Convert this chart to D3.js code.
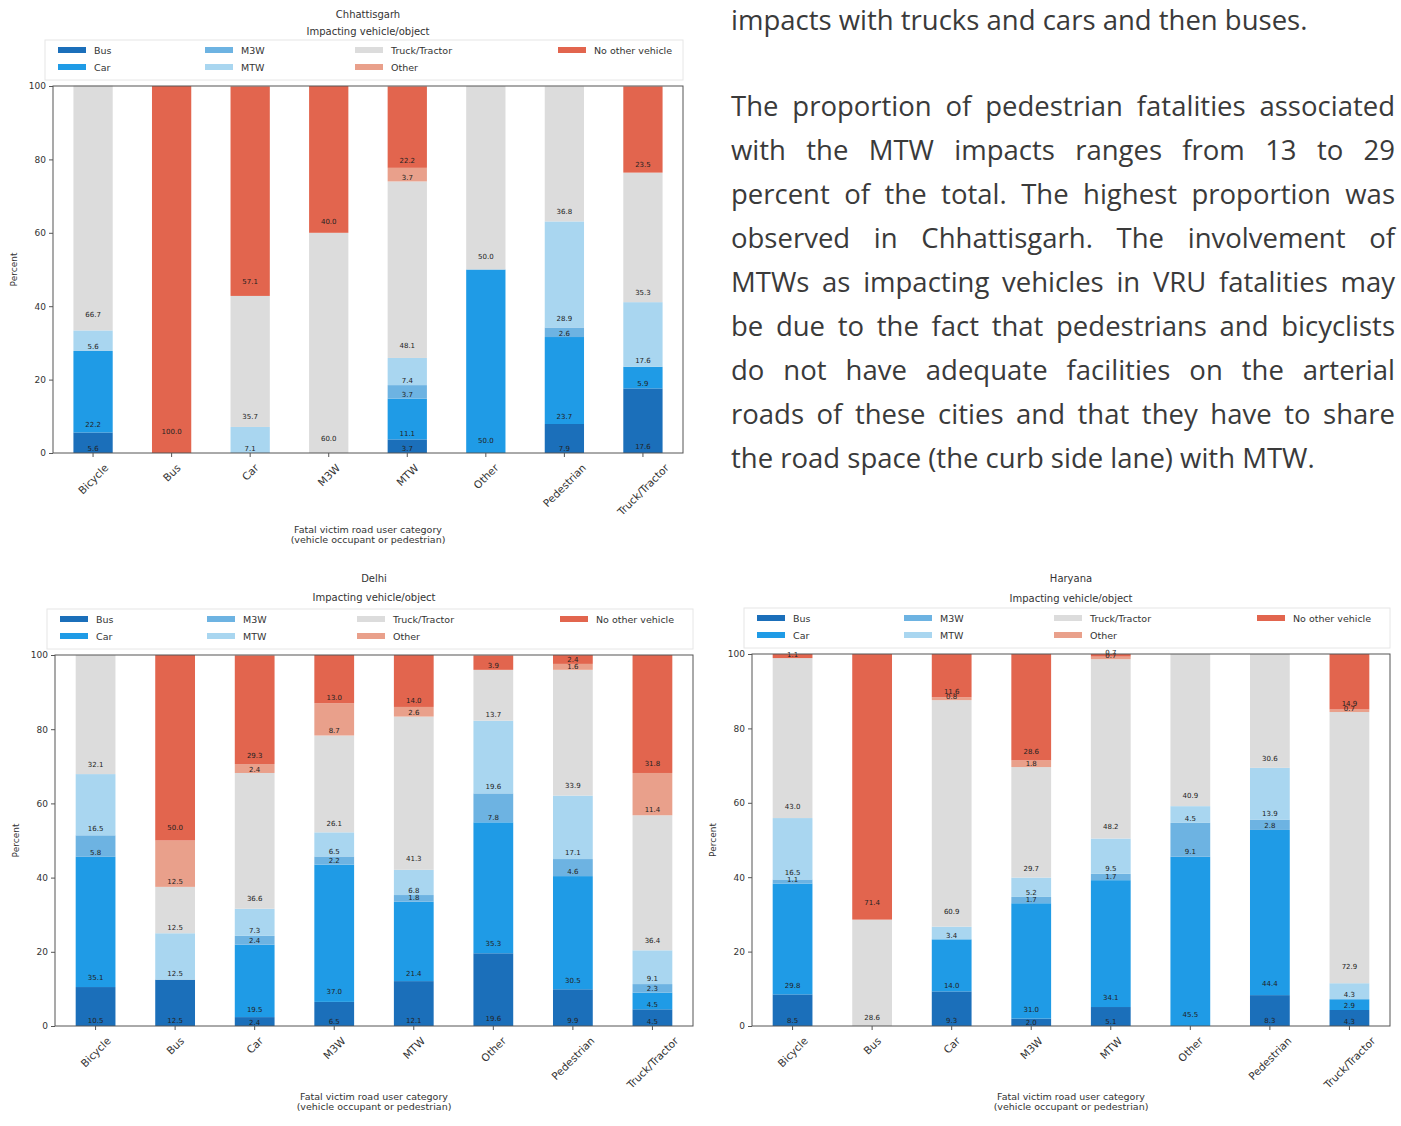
<!DOCTYPE html>
<html>
<head>
<meta charset="utf-8">
<script src="https://cdn.jsdelivr.net/npm/d3@7"></script>
<style>
  body { margin: 0; background: #fff; }
  svg { display: block; }
</style>
</head>
<body>
<svg id="page" width="1401" height="1126"></svg>
<script>
// victim categories (x axis) and impacting vehicle/object (stack order, bottom to top)
const categories = ["Bicycle", "Bus", "Car", "M3W", "MTW", "Other", "Pedestrian", "Truck/Tractor"];
const impactTypes = ["Bus", "Car", "M3W", "MTW", "Truck/Tractor", "Other", "No other vehicle"];
const yTicks = [0, 20, 40, 60, 80, 100];

// Chhattisgarh, percent per category
const chhBus     = [5.6, 0, 0, 0, 3.7, 0, 7.9, 17.6];
const chhCar     = [22.2, 0, 0, 0, 11.1, 50.0, 23.7, 5.9];
const chhM3W     = [0, 0, 0, 0, 3.7, 0, 2.6, 0];
const chhMTW     = [5.6, 0, 7.1, 0, 7.4, 0, 28.9, 17.6];
const chhTruck   = [66.7, 0, 35.7, 60.0, 48.1, 50.0, 36.8, 35.3];
const chhOther   = [0, 0, 0, 0, 3.7, 0, 0, 0];
const chhNoOther = [0, 100.0, 57.1, 40.0, 22.2, 0, 0, 23.5];

// Delhi
const delBus     = [10.5, 12.5, 2.4, 6.5, 12.1, 19.6, 9.9, 4.5];
const delCar     = [35.1, 0, 19.5, 37.0, 21.4, 35.3, 30.5, 4.5];
const delM3W     = [5.8, 0, 2.4, 2.2, 1.8, 7.8, 4.6, 2.3];
const delMTW     = [16.5, 12.5, 7.3, 6.5, 6.8, 19.6, 17.1, 9.1];
const delTruck   = [32.1, 12.5, 36.6, 26.1, 41.3, 13.7, 33.9, 36.4];
const delOther   = [0, 12.5, 2.4, 8.7, 2.6, 0, 1.6, 11.4];
const delNoOther = [0, 50.0, 29.3, 13.0, 14.0, 3.9, 2.4, 31.8];

// Haryana
const harBus     = [8.5, 0, 9.3, 2.0, 5.1, 0, 8.3, 4.3];
const harCar     = [29.8, 0, 14.0, 31.0, 34.1, 45.5, 44.4, 2.9];
const harM3W     = [1.1, 0, 0, 1.7, 1.7, 9.1, 2.8, 0];
const harMTW     = [16.5, 0, 3.4, 5.2, 9.5, 4.5, 13.9, 4.3];
const harTruck   = [43.0, 28.6, 60.9, 29.7, 48.2, 40.9, 30.6, 72.9];
const harOther   = [0, 0, 0.8, 1.8, 0.7, 0, 0, 0.7];
const harNoOther = [1.1, 71.4, 11.6, 28.6, 0.7, 0, 0, 14.9];

// paragraph text at top right
const paraLines = [
  "impacts with trucks and cars and then buses.",
  "The proportion of pedestrian fatalities associated",
  "with the MTW impacts ranges from 13 to 29",
  "percent of the total. The highest proportion was",
  "observed in Chhattisgarh. The involvement of",
  "MTWs as impacting vehicles in VRU fatalities may",
  "be due to the fact that pedestrians and bicyclists",
  "do not have adequate facilities on the arterial",
  "roads of these cities and that they have to share",
  "the road space (the curb side lane) with MTW."
];
const paraJustify = [false, true, true, true, true, true, true, true, true, false];

const palette = {
  "Bus": "#1b6fba",
  "Car": "#1f9be6",
  "M3W": "#6db3e2",
  "MTW": "#a9d6f0",
  "Truck/Tractor": "#dcdcdc",
  "Other": "#e9a08b",
  "No other vehicle": "#e2654e"
};

const charts = [
  { title: "Chhattisgarh",
    series: [chhBus, chhCar, chhM3W, chhMTW, chhTruck, chhOther, chhNoOther],
    left: 53, right: 683, top: 86, bottom: 453, titleY: 14, subY: 31, axisTitleY: 533 },
  { title: "Delhi",
    series: [delBus, delCar, delM3W, delMTW, delTruck, delOther, delNoOther],
    left: 55, right: 693, top: 655, bottom: 1026, titleY: 578, subY: 597, axisTitleY: 1100 },
  { title: "Haryana",
    series: [harBus, harCar, harM3W, harMTW, harTruck, harOther, harNoOther],
    left: 752, right: 1390, top: 654, bottom: 1026, titleY: 578, subY: 598, axisTitleY: 1100 }
];

const svg = d3.select("#page");
const chartFont = "DejaVu Sans, sans-serif";
const ink = "#333";

function drawChart(c) {
  const g = svg.append("g").attr("font-family", chartFont).attr("fill", ink);

  const x = d3.scaleBand()
    .domain(categories)
    .range([c.left, c.right])
    .paddingInner(0.5)
    .paddingOuter(0.26);
  const y = d3.scaleLinear()
    .domain([0, 100])
    .range([c.bottom, c.top]);

  const rows = categories.map((cat, i) => {
    const r = { category: cat };
    impactTypes.forEach((t, k) => { r[t] = c.series[k][i]; });
    return r;
  });
  const layers = d3.stack().keys(impactTypes)(rows);

  // stacked bars
  g.selectAll(".layer").data(layers).join("g")
      .attr("class", "layer")
      .attr("fill", d => palette[d.key])
    .selectAll("rect").data(d => d).join("rect")
      .attr("x", d => x(d.data.category))
      .attr("width", x.bandwidth())
      .attr("y", d => y(d[1]))
      .attr("height", d => Math.max(0, y(d[0]) - y(d[1])));

  // value labels, just above each segment's base
  layers.forEach((layer, k) => {
    const pts = layer
      .map((d, i) => ({ d, v: c.series[k][i] }))
      .filter(p => p.v > 0);
    g.append("g").selectAll("text").data(pts).enter().append("text")
      .attr("x", p => x(p.d.data.category) + x.bandwidth() / 2)
      .attr("y", p => y(p.d[0] + 0.05 * p.v) - 1)
      .attr("text-anchor", "middle")
      .attr("font-size", 7)
      .attr("fill", "#222")
      .text(p => p.v.toFixed(1));
  });

  // frame
  g.append("rect")
    .attr("x", c.left).attr("y", c.top)
    .attr("width", c.right - c.left).attr("height", c.bottom - c.top)
    .attr("fill", "none").attr("stroke", "#555").attr("stroke-width", 1);

  // y axis
  const yAxisG = g.append("g")
    .attr("transform", `translate(${c.left},0)`)
    .call(d3.axisLeft(y).tickValues(yTicks).tickSize(4).tickPadding(3));
  yAxisG.select(".domain").remove();
  yAxisG.selectAll("line").attr("stroke", "#555");
  yAxisG.selectAll("text").attr("font-size", 9).attr("font-family", chartFont).attr("fill", ink);

  // x axis with rotated labels centred under each tick
  const xAxisG = g.append("g")
    .attr("transform", `translate(0,${c.bottom})`)
    .call(d3.axisBottom(x).tickSize(4));
  xAxisG.select(".domain").remove();
  xAxisG.selectAll("line").attr("stroke", "#555");
  xAxisG.selectAll("text")
    .attr("font-size", 10.5)
    .attr("font-family", chartFont)
    .attr("fill", ink)
    .attr("text-anchor", "middle")
    .attr("dy", null)
    .attr("dominant-baseline", "central")
    .attr("y", 0)
    .attr("transform", function () {
      const len = this.getComputedTextLength();
      const h = (len + 10.5) * Math.SQRT1_2;
      return `translate(0,${9 + h / 2}) rotate(-45)`;
    });

  // axis titles
  g.append("text")
    .attr("transform", `translate(${c.left - 39},${(c.top + c.bottom) / 2}) rotate(-90)`)
    .attr("text-anchor", "middle")
    .attr("dominant-baseline", "central")
    .attr("font-size", 9)
    .text("Percent");
  const midX = (c.left + c.right) / 2;
  g.append("text")
    .attr("x", midX).attr("y", c.axisTitleY)
    .attr("text-anchor", "middle").attr("font-size", 9.5)
    .text("Fatal victim road user category");
  g.append("text")
    .attr("x", midX).attr("y", c.axisTitleY + 10)
    .attr("text-anchor", "middle").attr("font-size", 9.5)
    .text("(vehicle occupant or pedestrian)");

  // titles
  g.append("text")
    .attr("x", midX).attr("y", c.titleY)
    .attr("text-anchor", "middle").attr("dominant-baseline", "central")
    .attr("font-size", 10)
    .text(c.title);
  g.append("text")
    .attr("x", midX).attr("y", c.subY)
    .attr("text-anchor", "middle").attr("dominant-baseline", "central")
    .attr("font-size", 10)
    .text("Impacting vehicle/object");

  // legend, 4 columns x 2 rows
  g.append("rect")
    .attr("x", c.left - 8).attr("y", c.top - 46)
    .attr("width", c.right - c.left + 8).attr("height", 40)
    .attr("fill", "none").attr("stroke", "#e6e6e6");
  const colX = [5, 152, 302, 505];
  const leg = g.selectAll(".leg").data(impactTypes).join("g")
    .attr("class", "leg")
    .attr("transform", (d, i) =>
      `translate(${c.left + colX[Math.floor(i / 2)]},${c.top - 36 + (i % 2) * 17})`);
  leg.append("rect")
    .attr("x", 0).attr("y", -3)
    .attr("width", 28).attr("height", 6)
    .attr("fill", d => palette[d]);
  leg.append("text")
    .attr("x", 36).attr("y", 0)
    .attr("dominant-baseline", "central")
    .attr("font-size", 9.5)
    .text(d => d);
}

charts.forEach(drawChart);

// paragraph, justified line by line
const paraLeft = 731, paraRight = 1395;
const paraBase = [30, 116, 160, 204, 248, 292, 336, 380, 424, 468];
const para = svg.append("g")
  .attr("font-family", "Open Sans, sans-serif")
  .attr("font-size", 27.5)
  .attr("fill", "#3a3a3a");
paraLines.forEach((line, i) => {
  const t = para.append("text")
    .attr("x", paraLeft)
    .attr("y", paraBase[i])
    .text(line);
  if (paraJustify[i]) {
    const natural = t.node().getComputedTextLength();
    const spaces = (line.match(/ /g) || []).length;
    t.attr("word-spacing", (paraRight - paraLeft - natural) / spaces);
  }
});
</script>
</body>
</html>
